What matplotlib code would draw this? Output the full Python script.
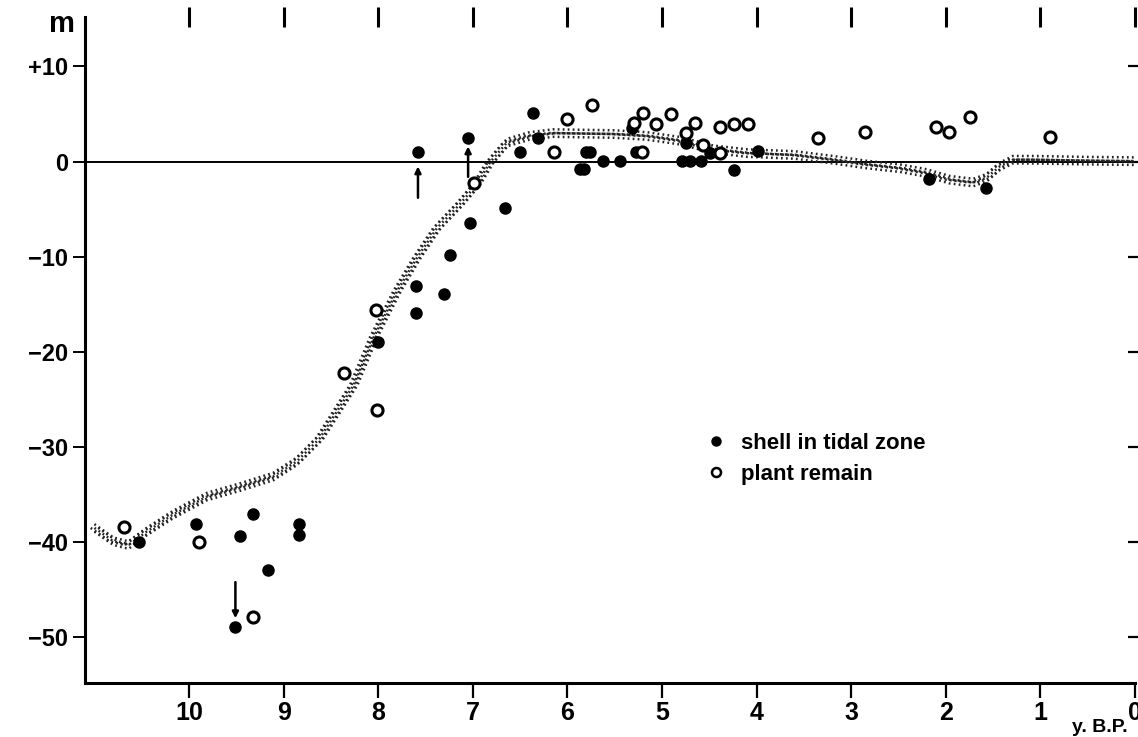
import matplotlib
matplotlib.use('Agg')
import matplotlib.pyplot as plt
import matplotlib.transforms as mtransforms
from matplotlib.lines import Line2D

plt.rcParams['font.family'] = ['Liberation Sans', 'DejaVu Sans']
plt.rcParams['font.weight'] = 'bold'

# sea level band (centre line), thousand years B.P. vs metres
band_x = [11.0, 10.8, 10.64, 10.45, 10.17, 9.81, 9.46, 9.11, 8.86, 8.62, 8.44, 8.26, 8.05,
          7.80, 7.59, 7.38, 7.14, 6.96, 6.82, 6.64, 6.40, 6.15, 5.51, 5.16, 4.81, 4.46,
          4.10, 3.60, 3.19, 2.84, 2.48, 2.20, 1.96, 1.71, 1.57, 1.43, 1.29, 1.08, 0.5, 0.0]
band_y = [-38.5, -39.9, -40.3, -38.9, -37.1, -35.2, -34.2, -33.1, -31.5, -29.1, -26.3, -23.5, -18.5,
          -13.6, -10.1, -7.0, -4.5, -2.4, -0.1, 2.0, 2.7, 3.0, 2.9, 2.7, 2.2, 1.3,
          0.9, 0.7, 0.2, -0.3, -0.7, -1.2, -1.9, -2.2, -1.7, -0.5, 0.2, 0.2, 0.1, 0.05]

# shell in tidal zone
shell_x = [10.53, 9.93, 9.46, 9.32, 9.17, 9.51, 8.84, 8.84, 8.00, 7.60, 7.60, 7.30, 7.24, 7.03,
           6.66, 7.58, 7.05, 6.50, 6.36, 6.31, 5.87, 5.83, 5.80, 5.76, 5.62, 5.44, 5.32, 5.27,
           4.75, 4.79, 4.70, 4.59, 4.49, 4.24, 3.99, 2.18, 1.58]
shell_y = [-40.0, -38.1, -39.3, -37.0, -42.9, -48.9, -38.1, -39.2, -19.0, -13.1, -15.9, -13.9, -9.8, -6.4,
           -4.9, 1.0, 2.5, 1.0, 5.1, 2.5, -0.8, -0.8, 1.0, 1.0, 0.05, 0.05, 3.5, 1.0,
           2.0, 0.05, 0.05, 0.05, 0.9, -0.9, 1.1, -1.8, -2.8]

# plant remain
plant_x = [10.69, 9.89, 9.32, 8.36, 8.02, 8.01, 6.99, 6.14, 6.00, 5.74, 5.30, 5.21, 5.20, 5.06,
           4.90, 4.75, 4.65, 4.57, 4.39, 4.39, 4.24, 4.09, 3.35, 2.85, 2.10, 1.97, 1.74, 0.90]
plant_y = [-38.4, -40.0, -47.9, -22.2, -15.6, -26.1, -2.2, 1.0, 4.5, 6.0, 4.1, 1.0, 5.1, 4.0,
           5.0, 3.0, 4.1, 1.7, 0.9, 3.6, 4.0, 4.0, 2.5, 3.1, 3.6, 3.1, 4.7, 2.6]

# arrows (x, from, to)
arrow_x = [7.58, 7.05, 9.51]
arrow_from = [-3.8, -1.6, -44.2]
arrow_to = [-0.5, 1.6, -48.0]

yticks = [10, 0, -10, -20, -30, -40, -50]
ytick_labels = ['+10', '0', '\u221210', '\u221220', '\u221230', '\u221240', '\u221250']
xticks = [10, 9, 8, 7, 6, 5, 4, 3, 2, 1, 0]

fig = plt.figure(figsize=(11.38, 7.37), dpi=100)
ax = fig.add_axes([85 / 1138, 1 - 683 / 737, 1050 / 1138, 666 / 737])

# stippled band: several thin dotted copies slightly offset
for dx, dy in [(0, 0), (0, 2.7), (0, -2.7), (2.7, 0), (-2.7, 0)]:
    tr = mtransforms.offset_copy(ax.transData, fig=fig, x=dx, y=dy, units='points')
    ax.plot(band_x, band_y, color='#222222', lw=1.8, linestyle=(0, (0.7, 1.3)),
            transform=tr, zorder=2)

ax.axhline(0, color='black', lw=1.4, zorder=1)

ax.plot(shell_x, shell_y, 'o', color='black', markersize=8, zorder=4)
ax.plot(plant_x, plant_y, 'o', markerfacecolor='white', markeredgecolor='black',
        markeredgewidth=2.2, markersize=8, zorder=4)

for x, y0, y1 in zip(arrow_x, arrow_from, arrow_to):
    ax.annotate('', xy=(x, y1), xytext=(x, y0),
                arrowprops=dict(arrowstyle='-|>', color='black', lw=1.8,
                                mutation_scale=9, shrinkA=0, shrinkB=0), zorder=3)

ax.set_xlim(11.1, 0)
ax.set_ylim(-54.8, 15.2)

ax.spines['top'].set_visible(False)
ax.spines['right'].set_visible(False)
ax.spines['left'].set_linewidth(2.2)
ax.spines['bottom'].set_linewidth(2.2)

ax.set_xticks(xticks)
ax.set_xticklabels([str(t) for t in xticks], fontsize=18, fontweight='bold')
ax.set_yticks(yticks)
ax.set_yticklabels(ytick_labels, fontsize=17, fontweight='bold')
ax.tick_params(axis='x', direction='out', length=11, width=1.6, pad=2,
               top=True)
ax.tick_params(axis='x', which='major', labeltop=False)
ax.tick_params(axis='y', direction='out', length=9, width=1.4, pad=3, right=True)

# top and right ticks drawn across the frame edge
for t in ax.xaxis.get_major_ticks():
    t.tick2line.set_markersize(14)
    t.tick2line.set_markeredgewidth(2.2)
    t.tick2line.set_marker('|')
for t in ax.yaxis.get_major_ticks():
    t.tick2line.set_markersize(10)
    t.tick2line.set_markeredgewidth(1.6)
    t.tick2line.set_marker('_')

handles = [Line2D([], [], marker='o', linestyle='none', color='black', markersize=6.5),
           Line2D([], [], marker='o', linestyle='none', markerfacecolor='white',
                  markeredgecolor='black', markeredgewidth=1.8, markersize=6.5)]
ax.legend(handles, ['shell in tidal zone', 'plant remain'], loc='upper left',
          bbox_to_anchor=(0.580, 0.392), frameon=False, handlelength=1.0,
          handletextpad=0.6, labelspacing=0.45, borderpad=0,
          prop={'size': 16, 'weight': 'bold'})

fig.text(62 / 1138, 1 - 24 / 737, 'm', fontsize=21, fontweight='bold',
         ha='center', va='center')
fig.text(1100 / 1138, 1 - 727 / 737, 'y. B.P.', fontsize=14, fontweight='bold',
         ha='center', va='center')

fig.savefig('out.png', dpi=100)
